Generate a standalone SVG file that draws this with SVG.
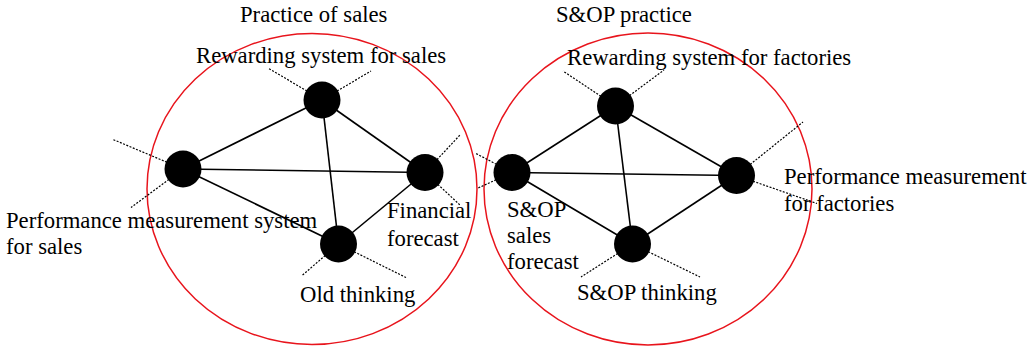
<svg xmlns="http://www.w3.org/2000/svg" width="1034" height="346" viewBox="0 0 1034 346">
<style>
text{font-family:"Liberation Serif","Times New Roman",serif;font-size:22.7px;fill:#000}
.grp{fill:none;stroke:#e8141c;stroke-width:1.5}
.edge{stroke:#000;stroke-width:1.6;fill:none}
.dot{stroke:#000;stroke-width:1.2;stroke-dasharray:2 1.5;fill:none}
.node{fill:#000}
</style>
<rect width="1034" height="346" fill="#fff"/>
<g id="groups">
<ellipse class="grp" cx="312" cy="189" rx="165" ry="155.5"/>
<ellipse class="grp" cx="648" cy="189" rx="164" ry="156"/>
<text x="240" y="22">Practice of sales</text>
<text x="556" y="22">S&amp;OP practice</text>
</g>
<g id="connectors">
<line class="edge" x1="322" y1="100" x2="183" y2="169"/>
<line class="edge" x1="322" y1="100" x2="425" y2="172.5"/>
<line class="edge" x1="322" y1="100" x2="338.5" y2="244"/>
<line class="edge" x1="183" y1="169" x2="425" y2="172.5"/>
<line class="edge" x1="183" y1="169" x2="338.5" y2="244"/>
<line class="edge" x1="425" y1="172.5" x2="338.5" y2="244"/>
<line class="edge" x1="615.5" y1="106" x2="512" y2="172.5"/>
<line class="edge" x1="615.5" y1="106" x2="736.5" y2="175.5"/>
<line class="edge" x1="615.5" y1="106" x2="632.5" y2="244"/>
<line class="edge" x1="512" y1="172.5" x2="736.5" y2="175.5"/>
<line class="edge" x1="512" y1="172.5" x2="632.5" y2="244"/>
<line class="edge" x1="736.5" y1="175.5" x2="632.5" y2="244"/>
<line class="dot" x1="322" y1="100" x2="268" y2="68"/>
<line class="dot" x1="322" y1="100" x2="371" y2="71"/>
<line class="dot" x1="183" y1="169" x2="113" y2="139.5"/>
<line class="dot" x1="183" y1="169" x2="131" y2="207.5"/>
<line class="dot" x1="425" y1="172.5" x2="460" y2="135"/>
<line class="dot" x1="425" y1="172.5" x2="460" y2="205"/>
<line class="dot" x1="338.5" y1="244" x2="301.5" y2="276"/>
<line class="dot" x1="338.5" y1="244" x2="406" y2="277.5"/>
<line class="dot" x1="615.5" y1="106" x2="563" y2="71"/>
<line class="dot" x1="615.5" y1="106" x2="664" y2="70"/>
<line class="dot" x1="512" y1="172.5" x2="475" y2="153"/>
<line class="dot" x1="512" y1="172.5" x2="477" y2="188.5"/>
<line class="dot" x1="736.5" y1="175.5" x2="803" y2="122"/>
<line class="dot" x1="736.5" y1="175.5" x2="817" y2="203.5"/>
<line class="dot" x1="632.5" y1="244" x2="581" y2="277"/>
<line class="dot" x1="632.5" y1="244" x2="700" y2="277"/>
</g>
<g id="n-rewarding-sales">
<circle class="node" cx="322" cy="100" r="18.5"/>
<text x="196" y="63">Rewarding system for sales</text>
</g>
<g id="n-perf-sales">
<circle class="node" cx="183" cy="169" r="18.5"/>
<text x="6" y="228"><tspan x="6">Performance measurement system</tspan><tspan x="6" y="254">for sales</tspan></text>
</g>
<g id="n-financial">
<circle class="node" cx="425" cy="172.5" r="18.5"/>
<text x="387" y="218"><tspan x="387">Financial</tspan><tspan x="387" y="245.5">forecast</tspan></text>
</g>
<g id="n-old-thinking">
<circle class="node" cx="338.5" cy="244" r="18.5"/>
<text x="300" y="302">Old thinking</text>
</g>
<g id="n-rewarding-factories">
<circle class="node" cx="615.5" cy="106" r="18.5"/>
<text x="567" y="64.5">Rewarding system for factories</text>
</g>
<g id="n-sop-forecast">
<circle class="node" cx="512" cy="172.5" r="18.5"/>
<text x="507" y="217"><tspan x="507">S&amp;OP</tspan><tspan x="507" y="243">sales</tspan><tspan x="507" y="269">forecast</tspan></text>
</g>
<g id="n-perf-factories">
<circle class="node" cx="736.5" cy="175.5" r="18.5"/>
<text x="784" y="184"><tspan x="784">Performance measurement</tspan><tspan x="784" y="211">for factories</tspan></text>
</g>
<g id="n-sop-thinking">
<circle class="node" cx="632.5" cy="244" r="18.5"/>
<text x="577" y="300">S&amp;OP thinking</text>
</g>
</svg>
